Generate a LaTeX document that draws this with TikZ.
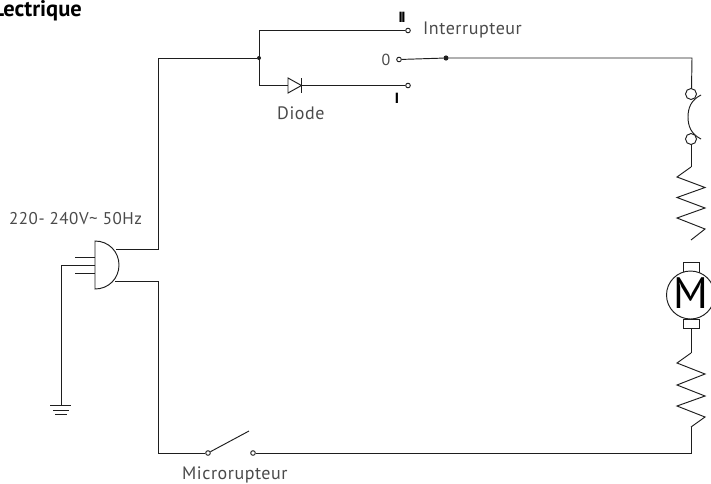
\documentclass[tikz,border=0pt]{standalone}
\usepackage{fontspec}
\setmainfont{PT Sans}
\newfontfamily\labfont[LetterSpace=3]{PT Sans}
\newfontfamily\markfont{Liberation Sans}
\definecolor{inkc}{HTML}{1E1E1E}
\definecolor{labelc}{HTML}{4A4A4A}
\tikzset{
  wire/.style={draw=inkc,line width=0.95pt,line join=miter},
  term/.style={circle,draw=inkc,fill=white,line width=0.9pt,inner sep=0pt,minimum size=4.6pt},
  joint/.style={circle,fill=inkc,inner sep=0pt,minimum size=4pt},
  contact/.style={circle,draw=inkc,fill=inkc,line width=0.9pt,inner sep=0pt,minimum size=4.2pt},
  fusering/.style={circle,draw=inkc,fill=white,line width=0.95pt,inner sep=0pt,minimum size=11pt},
  lab/.style={text=labelc,font=\labfont\fontsize{18}{20}\selectfont,inner sep=0pt,anchor=base west},
  marker/.style={text=black,font=\markfont\fontsize{15}{17}\selectfont\bfseries,inner sep=0pt,anchor=base},
}
\begin{document}
\begin{tikzpicture}[x=1pt,y=-1pt]
\useasboundingbox (0,0) rectangle (711,483);
\clip (0,0) rectangle (711,483);
% named points
\coordinate (plugT) at (116,249);
\coordinate (plugB) at (115,281);
\coordinate (c1) at (158,249);
\coordinate (c2) at (158,58);
\coordinate (c3) at (259,30.5);
\coordinate (c4) at (259,85.5);
\coordinate (c5) at (692,58);
\coordinate (c6) at (158,281);
\coordinate (c7) at (158,453);
\coordinate (c8) at (691,453);
\coordinate (c9) at (691,427);
\node[joint] (j) at (259,58) {};
\node[term] (tII) at (408,30.5) {};
\node[term] (t0) at (399,59.5) {};
\node[term] (tI) at (408,85.5) {};
\node[contact] (com) at (446,58) {};
\node[term] (ms1) at (208,453) {};
\node[term] (ms2) at (253,453) {};
\coordinate (msarm) at (249,431);
% mains wiring
\draw[wire] (plugT) -- (c1) -- (c2) -- (j);
\draw[wire] (c3) -- (c4);
\draw[wire] (c3) -- (tII);
\draw[wire] (c4) -- (tI);
\draw[wire] (t0) -- (com);
\draw[wire] (com) -- (c5) -- (691.5,89);
% diode
\draw[wire,fill=white] (288,78) -- (301.5,85.5) -- (288,93) -- cycle;
\draw[wire] (301.5,78) -- (301.5,93);
% fuse
\draw[wire] (691,144) -- (691,167);
\draw[wire] (701,95) .. controls (691,100) and (688,108) .. (688,117) .. controls (688,126) and (691,134) .. (701,139);
\node[fusering] (f1) at (691,94) {};
\node[fusering] (f2) at (691,139) {};
% resistor 1
\draw[wire] (691,167) -- (677,177) -- (705,187.5) -- (677,197.5) -- (705,208) -- (677,218) -- (705,229) -- (691,240);
% motor
\draw[wire] (683,262) rectangle (699,272);
\draw[wire] (683,319) rectangle (699,328);
\node[circle,draw=inkc,line width=0.95pt,fill=white,minimum size=48pt,inner sep=0pt] (mot) at (690.5,295) {};
\node[inner sep=0pt,text=black,font=\fontsize{44}{44}\selectfont] (mtxt) at (691,293) {M};
\draw[wire] (691,328) -- (691,353);
% resistor 2
\draw[wire] (691,353) -- (677,363) -- (705,374) -- (677,385) -- (705,396) -- (677,406) -- (705,417) -- (691,427);
\draw[wire] (c9) -- (c8) -- (ms2);
% microswitch
\draw[wire] (plugB) -- (c6) -- (c7) -- (ms1);
\draw[wire] (ms1) -- (msarm);
% plug
\draw[wire,fill=white] (95,241) .. controls (109,241) and (119,252) .. (119,265) .. controls (119,278) and (109,289) .. (95,289) -- cycle;
\draw[wire] (75,257) -- (95,257);
\draw[wire] (75,273) -- (95,273);
\draw[wire] (95,265) -- (61,265) -- (61,405);
% earth
\draw[wire] (50,405.5) -- (71,405.5);
\draw[wire] (53,410) -- (69,410);
\draw[wire] (55,414) -- (67,414);
% labels
\node[lab] (l1) at (423,34) {Interrupteur};
\node[lab] (l2) at (277,119) {Diode};
\node[lab,font=\labfont\fontsize{17}{19}\selectfont] (l3) at (9,224) {220- 240V\textasciitilde{} 50Hz};
\node[lab] (l4) at (182,479) {Microrupteur};
\node[text=labelc,font=\labfont\fontsize{16}{18}\selectfont,inner sep=0pt,anchor=base] (l0) at (386,65) {0};
\node[marker] (lII) at (402,22.7) {I\kern-1.5pt I};
\node[marker] (lI) at (397,103.5) {I};
\node[text=black,font=\fontsize{22.5}{24}\selectfont\bfseries,inner sep=0pt,anchor=base east] (title) at (82,16) {Lectrique};
\end{tikzpicture}
\end{document}
